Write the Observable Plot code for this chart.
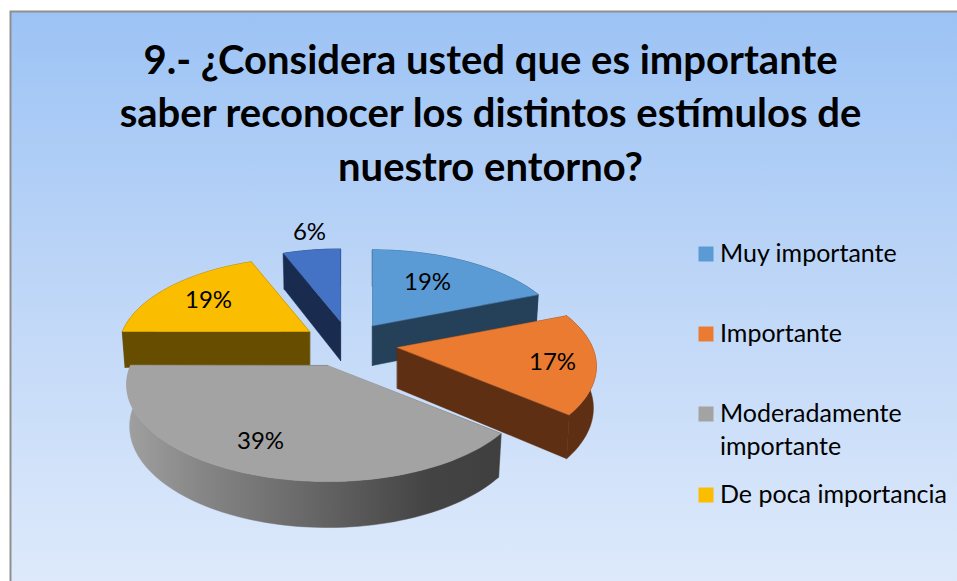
<!DOCTYPE html>
<html>
<head>
<meta charset="utf-8">
<script src="https://cdn.jsdelivr.net/npm/d3@7"></script>
<script src="https://cdn.jsdelivr.net/npm/@observablehq/plot@0.6"></script>
<style>html,body{margin:0;padding:0;background:#fff;overflow:hidden}</style>
</head>
<body>
<div id="chart"></div>
<script>
// Data
const categories = ["Muy importante", "Importante", "Moderadamente importante", "De poca importancia", "Nunca"];
const shares = [19, 17, 39, 19, 6];
const titleLines = ["9.- ¿Considera usted que es importante", "saber reconocer los distintos estímulos de", "nuestro entorno?"];
const legendLines = [["Muy importante"], ["Importante"], ["Moderadamente", "importante"], ["De poca importancia"]];

// Colours
const topColors = ["#5b9bd5", "#ea7b30", "#a3a3a3", "#fbbd00", "#4472c4"];
const sideColors = ["#254059", "#5f2f14", "url(#graySide)", "#664d00", "#1a2b50"];

// Layout of the exploded 3D pie
const anchorX = [372, 397, 327, 309, 340];
const anchorY = [325, 347, 365, 331, 321];
const sliceScale = [0.97, 0.99, 1.0, 0.95, 0.93];
const sliceDepth = [40, 41, 41, 36, 39];
const labelDx = [55, 155, -67, -101, -31];
const labelDy = [-43, 15, 76, -31, -89];
const drawOrder = [4, 0, 3, 1, 2];
const legendRowY = [253.5, 333.5, 413.5, 494.5];
const radiusX = 197, radiusY = 93.3, tilt = 0.196, bottomShrink = 0.985, bottomStretch = 1.043;

const FONT = "Lato, Carlito, Calibri, sans-serif";
const W = 957, H = 581;

const arcs = d3.pie().sort(null).value(d => d)(shares);

function rim(i, angle) {
  const Y = Math.cos(angle), p = 1 + tilt * Y, s = sliceScale[i];
  return [s * radiusX * Math.sin(angle) / p, -s * radiusY * Y / p];
}
const topPoint = (i, [dx, dy]) => ({x: anchorX[i] + dx, y: anchorY[i] + dy});
const lowPoint = (i, [dx, dy]) => ({x: anchorX[i] + dx * bottomShrink, y: anchorY[i] + sliceDepth[i] + dy * bottomStretch});

function arcAngles(i) {
  const {startAngle: a, endAngle: b} = arcs[i];
  const n = Math.max(6, Math.round((b - a) / 0.03));
  return d3.range(n + 1).map(k => a + (b - a) * k / n);
}
function topFace(i) {
  return [topPoint(i, [0, 0]), ...arcAngles(i).map(t => topPoint(i, rim(i, t)))];
}
function rimFace(i) {
  const ang = arcAngles(i);
  return [...ang.map(t => topPoint(i, rim(i, t))), ...ang.slice().reverse().map(t => lowPoint(i, rim(i, t)))];
}
function radialFace(i, angle) {
  const r = rim(i, angle);
  return [topPoint(i, [0, 0]), topPoint(i, r), lowPoint(i, r), lowPoint(i, [0, 0])];
}

const poly = (pts, fill) => Plot.line(pts, {x: "x", y: "y", fill, stroke: fill, strokeWidth: 0.5, curve: "linear-closed"});

const sliceMarks = drawOrder.flatMap(i => {
  const side = sideColors[i];
  return [
    poly(radialFace(i, arcs[i].startAngle), side),
    poly(radialFace(i, arcs[i].endAngle), side),
    poly(rimFace(i), side),
    poly(topFace(i), topColors[i])
  ];
});

const defs = () => {
  const svgNS = "http://www.w3.org/2000/svg";
  const d = document.createElementNS(svgNS, "defs");
  d.innerHTML = `
    <linearGradient id="panelFill" x1="0" y1="0" x2="0" y2="1">
      <stop offset="0" stop-color="#9cc3f5"/><stop offset="0.45" stop-color="#bcd5f7"/><stop offset="1" stop-color="#deeafb"/>
    </linearGradient>
    <linearGradient id="graySide" x1="0" y1="0" x2="1" y2="0">
      <stop offset="0" stop-color="#a0a0a0"/><stop offset="0.2" stop-color="#868686"/>
      <stop offset="0.5" stop-color="#666666"/><stop offset="0.8" stop-color="#444444"/><stop offset="1" stop-color="#3f3f3f"/>
    </linearGradient>`;
  return d;
};

const legendText = legendLines.flatMap((lines, i) =>
  lines.map((t, k) => ({t, y: legendRowY[i] + k * 33})));
const titleRows = titleLines.map((t, i) => ({t, y: 60.5 + i * 53.5}));
const valueLabels = shares.map((v, i) => ({t: v + "%", x: anchorX[i] + labelDx[i], y: anchorY[i] + labelDy[i]}));

const chart = Plot.plot({
  width: W, height: H, margin: 0,
  style: {background: "transparent"},
  x: {domain: [0, W], range: [0, W], axis: null},
  y: {domain: [0, H], range: [0, H], axis: null},
  marks: [
    defs,
    Plot.rect([0], {x1: 10.5, x2: W + 5, y1: 11.5, y2: H + 5, fill: "url(#panelFill)", stroke: "#8f8f8f", strokeWidth: 2}),
    ...sliceMarks,
    Plot.text(valueLabels, {x: "x", y: "y", text: "t", fontFamily: FONT, fontSize: 24, fill: "#000"}),
    Plot.text(titleRows, {x: 490, y: "y", text: "t", fontFamily: FONT, fontWeight: 700, fontSize: 40, fill: "#000"}),
    Plot.dot(legendRowY.map((y, i) => ({y, i})), {x: 705.5, y: "y", symbol: "square", r: 8.46, fill: d => topColors[d.i], stroke: "none"}),
    Plot.text(legendText, {x: 719.5, y: "y", text: "t", textAnchor: "start", fontFamily: FONT, fontSize: 25, fill: "#000"})
  ],
  color: {type: "identity"}
});
document.getElementById("chart").appendChild(chart);
</script>
</body>
</html>
